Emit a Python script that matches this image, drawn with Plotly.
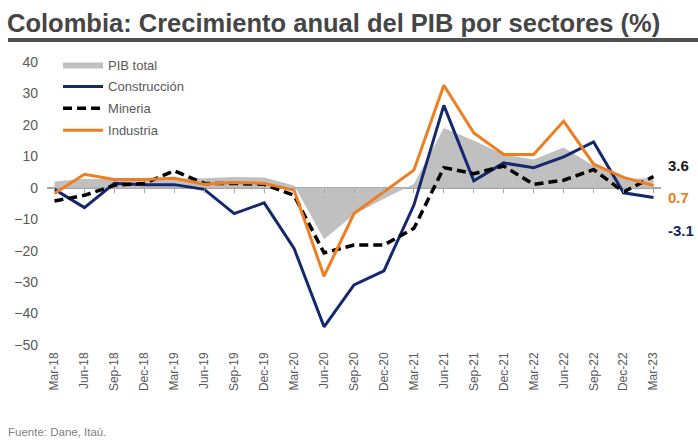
import plotly.graph_objects as go

categories = ["Mar-18", "Jun-18", "Sep-18", "Dec-18", "Mar-19", "Jun-19", "Sep-19", "Dec-19",
              "Mar-20", "Jun-20", "Sep-20", "Dec-20", "Mar-21", "Jun-21", "Sep-21", "Dec-21",
              "Mar-22", "Jun-22", "Sep-22", "Dec-22", "Mar-23"]

pib_total = [2.0, 2.9, 2.7, 2.8, 3.1, 3.0, 3.4, 3.3, 0.7, -16.4, -8.5, -3.5,
             1.2, 19.0, 15.0, 10.6, 9.0, 12.8, 7.0, 2.9, 3.0]
construccion = [-0.5, -6.3, 1.4, 1.0, 1.0, -0.5, -8.2, -4.8, -19.3, -44.2, -30.9, -26.4,
                -5.5, 26.2, 2.2, 7.9, 6.4, 9.8, 14.6, -1.6, -3.1]
mineria = [-4.2, -2.4, 0.8, 1.4, 5.4, 1.4, 1.4, 1.1, -2.4, -20.7, -18.2, -18.2,
           -12.9, 6.4, 4.5, 6.9, 1.1, 2.4, 5.8, -1.3, 3.6]
industria = [-1.8, 4.3, 2.6, 2.6, 3.0, 1.1, 1.7, 1.4, -0.8, -28.1, -8.2, -1.2,
             5.6, 32.6, 17.4, 10.6, 10.6, 21.2, 7.5, 3.3, 0.7]

y_ticks = [40, 30, 20, 10, 0, -10, -20, -30, -40, -50]

NAVY = "#14286e"
ORANGE = "#ef7d22"
GRAY_FILL = "#c0c0c0"
TXT = "#595959"
FONT = "Liberation Sans, Arial, sans-serif"

xpos = list(range(len(categories)))

fig = go.Figure()
fig.add_trace(go.Scatter(x=xpos, y=pib_total, name="PIB total", mode="lines",
                         fill="tozeroy", fillcolor=GRAY_FILL, line=dict(width=0, color=GRAY_FILL),
                         legendgroup="a"))
fig.add_trace(go.Scatter(x=xpos, y=construccion, name="Construcción", mode="lines",
                         line=dict(color=NAVY, width=3), legendgroup="b"))
fig.add_trace(go.Scatter(x=xpos, y=mineria, name="Mineria", mode="lines",
                         line=dict(color="#000000", width=3.5, dash="9px,5px"), legendgroup="c"))
fig.add_trace(go.Scatter(x=xpos, y=industria, name="Industria", mode="lines",
                         line=dict(color=ORANGE, width=3), legendgroup="d"))
# invisible trace to carry the tick axis on the zero line
fig.add_trace(go.Scatter(x=xpos, y=[0] * len(categories), xaxis="x2", mode="lines",
                         line=dict(width=0), showlegend=False, hoverinfo="skip"))

ymin, ymax = -50, 40
xr = [-0.25, len(categories) - 1 + 0.25]

fig.update_layout(
    width=698, height=443,
    margin=dict(l=47, r=37, t=62, b=98, autoexpand=False),
    paper_bgcolor="white", plot_bgcolor="white",
    font=dict(family=FONT, color=TXT),
    showlegend=True,
    legend=dict(x=0.018, y=1.044, xanchor="left", yanchor="top",
                font=dict(size=13, color=TXT, family=FONT),
                bgcolor="rgba(0,0,0,0)", traceorder="grouped", tracegroupgap=2,
                itemwidth=40),
    xaxis=dict(range=xr, tickmode="array", tickvals=xpos, ticktext=categories,
               showline=False, showgrid=False, zeroline=False, automargin=False,
               ticks="", tickangle=-90, ticklabelstandoff=4,
               tickfont=dict(size=12, color=TXT, family=FONT)),
    xaxis2=dict(range=xr, overlaying="x", anchor="free", tickmode="array", tickvals=xpos,
                position=(0 - ymin) / (ymax - ymin), side="bottom",
                showline=False, showgrid=False, zeroline=False, showticklabels=False,
                ticks="outside", ticklen=4, tickwidth=1, tickcolor="#a6a6a6"),
    yaxis=dict(range=[ymin, ymax], tickvals=y_ticks, showgrid=False, showline=False,
               automargin=False, ticklabelstandoff=8,
               zeroline=True, zerolinecolor="#a6a6a6", zerolinewidth=1.5,
               ticks="", tickfont=dict(size=14, color=TXT, family=FONT)),
)

# Title and underline
fig.add_annotation(text="<b>Colombia: Crecimiento anual del PIB por sectores (%)</b>",
                   xref="paper", yref="paper", x=(5 - 47) / 614, y=1 + (62 - 23) / 283,
                   xanchor="left", yanchor="middle", showarrow=False,
                   font=dict(size=25.5, color="#454545", family=FONT))
fig.add_shape(type="line", xref="paper", yref="paper",
              x0=(8 - 47) / 614, x1=1 + 37 / 614, y0=1 + (62 - 40) / 283, y1=1 + (62 - 40) / 283,
              line=dict(color="#505050", width=4))

# Source
fig.add_annotation(text="Fuente: Dane, Itaú.", xref="paper", yref="paper",
                   x=(6 - 47) / 614, y=-(432 - 345) / 283, xanchor="left", yanchor="middle",
                   showarrow=False, font=dict(size=11.5, color="#7f7f7f", family=FONT))

# End labels
for vals, color, yshift in [(mineria, "#1a1a1a", 11), (industria, ORANGE, -12), (construccion, NAVY, -33)]:
    fig.add_annotation(text=f"<b>{vals[-1]:.1f}</b>", x=xpos[-1], y=vals[-1], xref="x", yref="y",
                       xanchor="left", yanchor="middle", xshift=12, yshift=yshift,
                       showarrow=False, font=dict(size=15, color=color, family=FONT))

fig.write_html("out.html", config={"displayModeBar": False},
               post_script="document.body.style.margin='0';")
